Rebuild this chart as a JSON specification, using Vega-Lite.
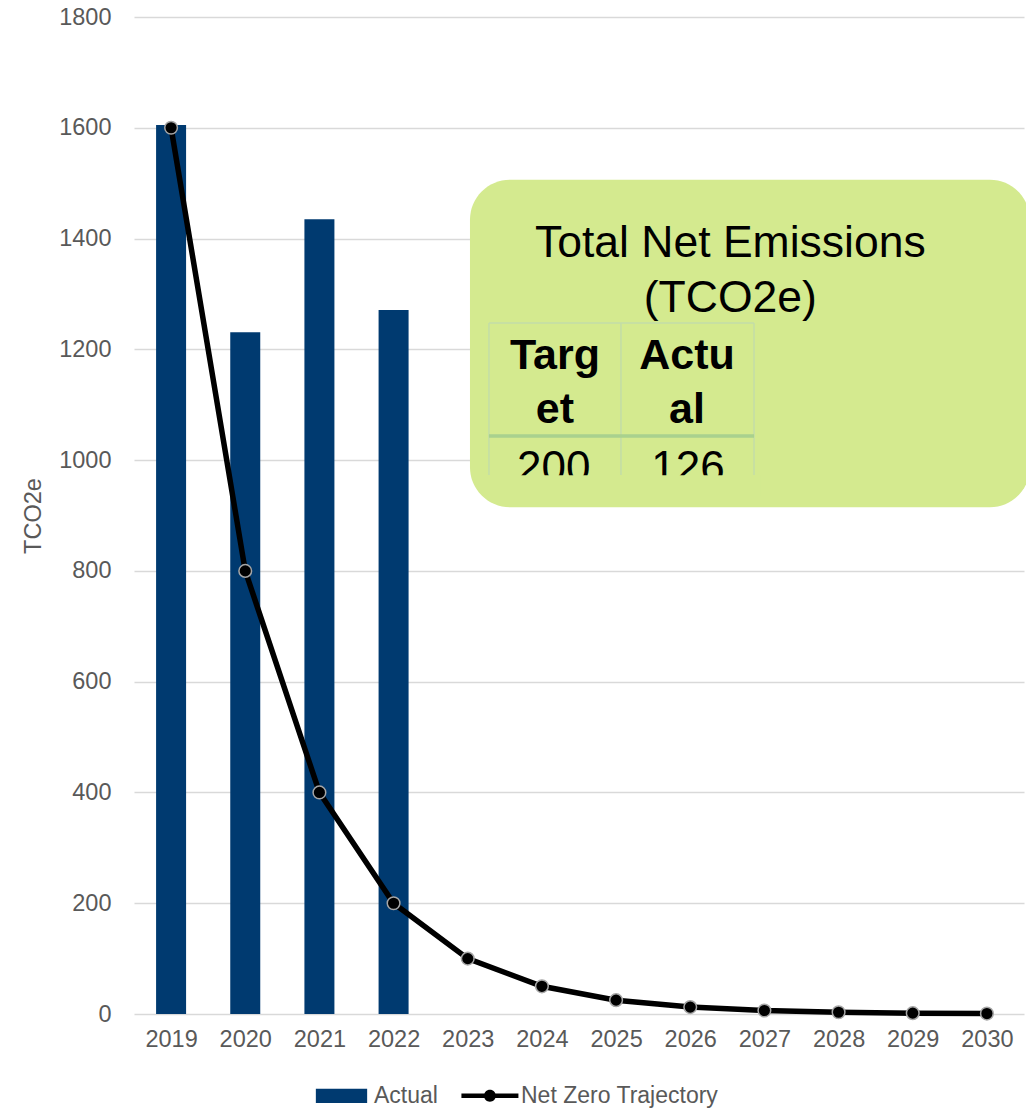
{
  "$schema": "https://vega.github.io/schema/vega-lite/v6.json",
  "width": 890,
  "height": 997,
  "autosize": {"type": "none"},
  "padding": {"left": 134, "top": 17, "right": 2, "bottom": 95},
  "background": "white",
  "config": {
    "font": "Liberation Sans",
    "view": {"stroke": null},
    "axis": {
      "labelFont": "Liberation Sans", "labelFontSize": 23.5, "labelColor": "#595959",
      "titleFont": "Liberation Sans", "titleFontSize": 23.5, "titleColor": "#595959", "titleFontWeight": "normal",
      "domain": false, "ticks": false, "gridColor": "#D9D9D9", "gridWidth": 1.5
    },
    "axisX": {"grid": false, "labelPadding": 13},
    "axisY": {"labelPadding": 23, "titlePadding": 13}
  },
  "datasets": {
    "bars": [
      {"year": 2019, "value": 1605, "series": "Actual"},
      {"year": 2020, "value": 1231, "series": "Actual"},
      {"year": 2021, "value": 1435, "series": "Actual"},
      {"year": 2022, "value": 1271, "series": "Actual"}
    ],
    "traj": [
      {"year": 2019, "value": 1600},
      {"year": 2020, "value": 800},
      {"year": 2021, "value": 400},
      {"year": 2022, "value": 200},
      {"year": 2023, "value": 100},
      {"year": 2024, "value": 50},
      {"year": 2025, "value": 25},
      {"year": 2026, "value": 12.5},
      {"year": 2027, "value": 6.25},
      {"year": 2028, "value": 3.125},
      {"year": 2029, "value": 1.5625},
      {"year": 2030, "value": 0.78}
    ],
    "box": [{"x": 2023.03, "x2": 2030.58, "y": 1506, "y2": 915}],
    "title": [
      {"x": 2026.54, "y": 1366.7, "text": "Total Net Emissions"},
      {"x": 2026.54, "y": 1267.4, "text": "(TCO2e)"}
    ],
    "thin": [
      {"x": 2023.286, "x2": 2026.86, "y": 1247.5, "y2": 1247.5},
      {"x": 2023.286, "x2": 2023.286, "y": 1247.5, "y2": 973},
      {"x": 2025.066, "x2": 2025.066, "y": 1247.5, "y2": 973},
      {"x": 2026.86, "x2": 2026.86, "y": 1247.5, "y2": 973}
    ],
    "thick": [{"x": 2023.286, "x2": 2026.86, "y": 1043.5, "y2": 1043.5}],
    "head": [
      {"x": 2024.176, "y": 1164.5, "text": "Targ"},
      {"x": 2024.176, "y": 1067, "text": "et"},
      {"x": 2025.956, "y": 1164.5, "text": "Actu"},
      {"x": 2025.956, "y": 1067, "text": "al"}
    ],
    "nums": [
      {"x": 2024.16, "y": 961, "text": "200"},
      {"x": 2025.97, "y": 961, "text": "126"}
    ],
    "cover": [{"x": 2023.2, "x2": 2026.95, "y": 972.5, "y2": 935}]
  },
  "layer": [
    {
      "data": {"name": "bars"},
      "mark": {"type": "bar", "width": 30},
      "encoding": {
        "x": {
          "field": "year", "type": "quantitative", "title": null,
          "scale": {"domain": [2018.5, 2030.5], "nice": false, "zero": false, "padding": 0},
          "axis": {"values": [2019, 2020, 2021, 2022, 2023, 2024, 2025, 2026, 2027, 2028, 2029, 2030], "format": "d"}
        },
        "y": {
          "field": "value", "type": "quantitative", "title": "TCO2e",
          "scale": {"domain": [0, 1800], "nice": false},
          "axis": {"values": [0, 200, 400, 600, 800, 1000, 1200, 1400, 1600, 1800], "format": "d"}
        },
        "color": {
          "field": "series", "type": "nominal",
          "scale": {"domain": ["Actual", "Net Zero Trajectory"], "range": ["#003A70", "#000000"]},
          "legend": {
            "orient": "none", "legendX": 179, "legendY": 1050, "direction": "horizontal",
            "title": null, "padding": 0, "symbolSize": 3249, "symbolStrokeWidth": 0,
            "labelFont": "Liberation Sans", "labelFontSize": 23, "labelColor": "#595959",
            "labelOffset": 4, "columnPadding": 22, "labelLimit": 500,
            "encode": {"symbols": {"update": {"shape": {"signal": "datum.value === 'Actual' ? 'M-0.9,-0.25H0.9V0.25H-0.9Z' : 'M-0.95,-0.075H1.05V0.075H-0.95Z M0.26,0A0.21,0.21 0 1,1 -0.16,0A0.21,0.21 0 1,1 0.26,0Z'"}}}}
          }
        }
      }
    },
    {
      "data": {"name": "traj"},
      "mark": {"type": "line", "color": "#000000", "strokeWidth": 5.5},
      "encoding": {
        "x": {"field": "year", "type": "quantitative", "title": null},
        "y": {"field": "value", "type": "quantitative", "title": "TCO2e"}
      }
    },
    {
      "data": {"name": "traj"},
      "mark": {"type": "point", "filled": true, "fill": "#000000", "stroke": "#A6A6A6", "strokeWidth": 1.5, "size": 160, "opacity": 1},
      "encoding": {
        "x": {"field": "year", "type": "quantitative", "title": null},
        "y": {"field": "value", "type": "quantitative", "title": "TCO2e"}
      }
    },
    {
      "data": {"name": "box"},
      "mark": {"type": "rect", "color": "#D4EA8F", "cornerRadius": 40},
      "encoding": {
        "x": {"field": "x", "type": "quantitative", "title": null},
        "x2": {"field": "x2"},
        "y": {"field": "y", "type": "quantitative", "title": "TCO2e"},
        "y2": {"field": "y2"}
      }
    },
    {
      "data": {"name": "title"},
      "mark": {"type": "text", "align": "center", "baseline": "alphabetic", "fontSize": 44.5, "color": "#000000", "font": "Liberation Sans"},
      "encoding": {
        "x": {"field": "x", "type": "quantitative", "title": null},
        "y": {"field": "y", "type": "quantitative", "title": "TCO2e"},
        "text": {"field": "text"}
      }
    },
    {
      "data": {"name": "nums"},
      "mark": {"type": "text", "align": "center", "baseline": "alphabetic", "fontSize": 44, "color": "#000000", "font": "Liberation Sans"},
      "encoding": {
        "x": {"field": "x", "type": "quantitative", "title": null},
        "y": {"field": "y", "type": "quantitative", "title": "TCO2e"},
        "text": {"field": "text"}
      }
    },
    {
      "data": {"name": "cover"},
      "mark": {"type": "rect", "color": "#D4EA8F"},
      "encoding": {
        "x": {"field": "x", "type": "quantitative", "title": null},
        "x2": {"field": "x2"},
        "y": {"field": "y", "type": "quantitative", "title": "TCO2e"},
        "y2": {"field": "y2"}
      }
    },
    {
      "data": {"name": "thin"},
      "mark": {"type": "rule", "color": "#C3DDA8", "strokeWidth": 1.5},
      "encoding": {
        "x": {"field": "x", "type": "quantitative", "title": null},
        "x2": {"field": "x2"},
        "y": {"field": "y", "type": "quantitative", "title": "TCO2e"},
        "y2": {"field": "y2"}
      }
    },
    {
      "data": {"name": "thick"},
      "mark": {"type": "rule", "color": "#A9D18E", "strokeWidth": 3.5},
      "encoding": {
        "x": {"field": "x", "type": "quantitative", "title": null},
        "x2": {"field": "x2"},
        "y": {"field": "y", "type": "quantitative", "title": "TCO2e"},
        "y2": {"field": "y2"}
      }
    },
    {
      "data": {"name": "head"},
      "mark": {"type": "text", "align": "center", "baseline": "alphabetic", "fontSize": 43, "fontWeight": "bold", "color": "#000000", "font": "Liberation Sans"},
      "encoding": {
        "x": {"field": "x", "type": "quantitative", "title": null},
        "y": {"field": "y", "type": "quantitative", "title": "TCO2e"},
        "text": {"field": "text"}
      }
    }
  ]
}
